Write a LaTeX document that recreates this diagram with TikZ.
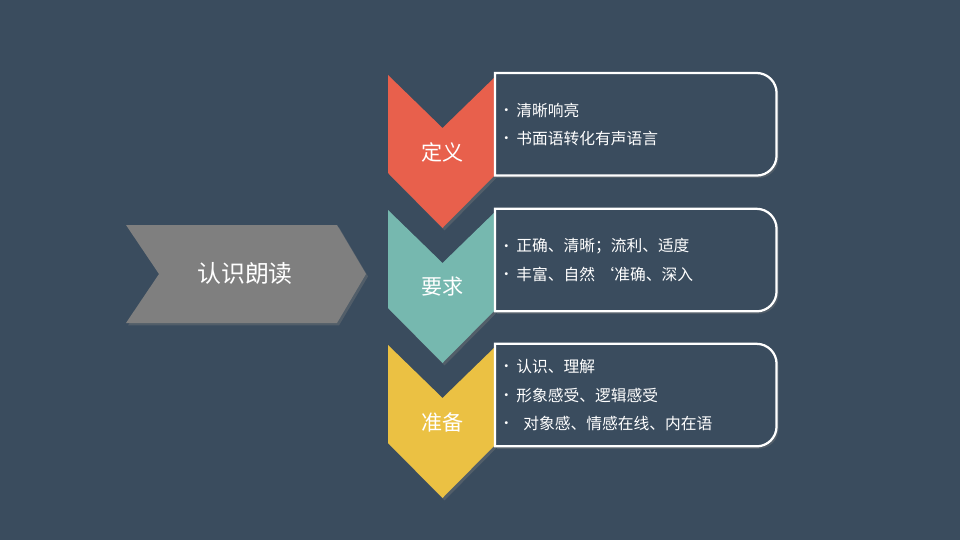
\documentclass[tikz,border=0pt]{standalone}
\usepackage{fontspec}
\setmainfont{Noto Sans CJK SC}
\usetikzlibrary{shadows}
\definecolor{bgc}{HTML}{3A4C5E}
\definecolor{colr}{HTML}{E8604C}
\definecolor{colt}{HTML}{76B8AF}
\definecolor{coly}{HTML}{EBC143}
\definecolor{colg}{HTML}{7F7F7F}
\tikzset{
  shd/.style={drop shadow={opacity=0.35, shadow xshift=0.05cm, shadow yshift=-0.06cm}},
  chv/.style={fill=#1, shd},
  lbl/.style={text=white, font=\fontsize{15pt}{18pt}\selectfont, inner sep=0pt},
  bx/.style={draw=none, anchor=north west, minimum width=7.025cm,
             minimum height=2.55cm, inner sep=0pt},
  frm/.style={draw=white, line width=1.6pt, fill=bgc, shd},
  txt/.style={text=white, anchor=west, align=left, inner sep=0pt,
              font=\fontsize{11.2pt}{20.3pt}\selectfont},
}
\newcommand{\bul}{\makebox[0.3cm][l]{\makebox[0.1cm][c]{\fontsize{10pt}{10pt}\selectfont\raisebox{0.5pt}{•}}}}
% frame with round corners on the right side only
\newcommand{\sideframe}[1]{%
  \draw[frm] (#1.north west) -- ([xshift=-0.5cm]#1.north east)
    arc[start angle=90, end angle=0, radius=0.5cm]
    -- ([yshift=0.5cm]#1.south east)
    arc[start angle=0, end angle=-90, radius=0.5cm]
    -- (#1.south west) -- cycle;}
\def\XL{9.7}
\def\XM{11.0625}
\def\XR{12.425}
\def\Ya{11.625}
\def\Yb{8.25}
\def\Yc{4.875}

\begin{document}
\begin{tikzpicture}
\useasboundingbox (0,0) rectangle (24,13.5);
\fill[bgc] (0,0) rectangle (24,13.5);

%% --- left chevron ---
\fill[chv=colg] (3.15,7.875) -- (8.425,7.875) -- (9.15,6.65) -- (8.425,5.425)
  -- (3.15,5.425) -- (3.975,6.65) -- cycle;
\node[lbl, font=\fontsize{17pt}{20pt}\selectfont] (rd) at (6.125,6.675) {认识朗读};

%% --- vertical chevrons ---
\fill[chv=colr] (\XL,\Ya) -- (\XM,{\Ya-1.325}) -- (\XR,\Ya) -- (\XR,{\Ya-2.45})
  -- (\XM,{\Ya-3.825}) -- (\XL,{\Ya-2.45}) -- cycle;
\fill[chv=colt] (\XL,\Yb) -- (\XM,{\Yb-1.325}) -- (\XR,\Yb) -- (\XR,{\Yb-2.45})
  -- (\XM,{\Yb-3.825}) -- (\XL,{\Yb-2.45}) -- cycle;
\fill[chv=coly] (\XL,\Yc) -- (\XM,{\Yc-1.325}) -- (\XR,\Yc) -- (\XR,{\Yc-2.45})
  -- (\XM,{\Yc-3.825}) -- (\XL,{\Yc-2.45}) -- cycle;

\node[lbl] (dy) at (\XM,{\Ya-1.925}) {定义};
\node[lbl] (yq) at (\XM,{\Yb-1.925}) {要求};
\node[lbl] (zb) at (\XM,{\Yc-1.925}) {准备};

%% --- boxes ---
\node[bx] (b1) at (12.375,{\Ya+0.05}) {};
\node[bx] (b2) at (12.375,{\Yb+0.03}) {};
\node[bx] (b3) at (12.375,{\Yc+0.03}) {};
\sideframe{b1}
\sideframe{b2}
\sideframe{b3}

\node[txt] (t1) at ([xshift=0.225cm]b1.west)
  {\bul 清晰响亮\\\bul 书面语转化有声语言};
\node[txt] (t2) at ([xshift=0.225cm]b2.west)
  {\bul 正确、清晰；流利、适度\\\bul 丰富、自然 ‘准确、深入};
\node[txt] (t3) at ([xshift=0.225cm]b3.west)
  {\bul 认识、理解\\\bul 形象感受、逻辑感受\\\bul\hspace{0.18cm}对象感、情感在线、内在语};

\end{tikzpicture}
\end{document}
